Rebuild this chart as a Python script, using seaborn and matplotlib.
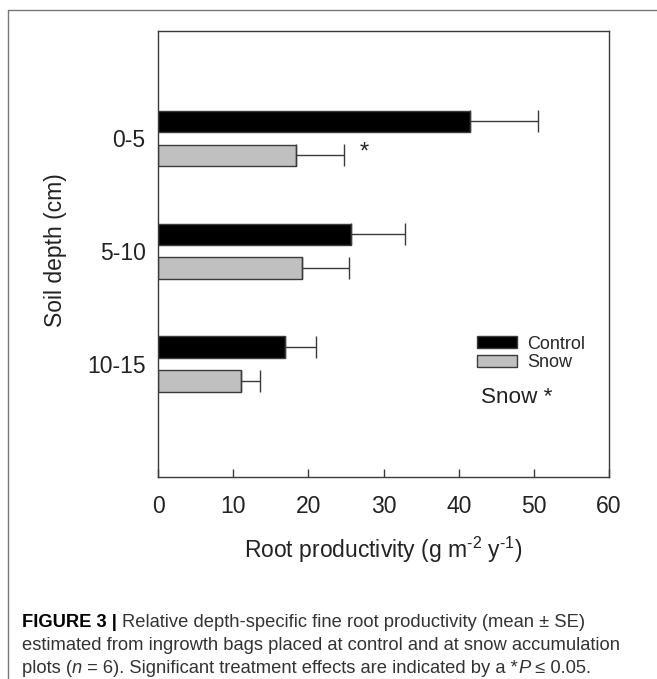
import numpy as np
import pandas as pd
import matplotlib
matplotlib.use("Agg")
import matplotlib.pyplot as plt
from matplotlib.lines import Line2D
import seaborn as sns

# ─── Data ─────────────────────────────────────────────────────────────────────
depths = ["0-5", "5-10", "10-15"]
treatments = ["Control", "Snow"]
control_mean = [41.5, 25.7, 16.9]
control_se = [9.0, 7.1, 4.1]
snow_mean = [18.3, 19.1, 11.1]
snow_se = [6.4, 6.3, 2.5]
x_ticks = [0, 10, 20, 30, 40, 50, 60]

df = pd.DataFrame({
    "depth": depths * 2,
    "treatment": ["Control"] * 3 + ["Snow"] * 3,
    "value": control_mean + snow_mean,
})
se_by_treatment = {"Control": control_se, "Snow": snow_se}

# ─── Style ────────────────────────────────────────────────────────────────────
sns.set_style("white")
plt.rcParams["font.family"] = ["Liberation Sans", "DejaVu Sans"]
plt.rcParams["mathtext.fontset"] = "custom"
plt.rcParams["mathtext.rm"] = "Liberation Sans"
plt.rcParams["mathtext.it"] = "Liberation Sans:italic"
INK = "#222222"
EDGE = "#3a3a3a"

fig = plt.figure(figsize=(6.57, 6.79), dpi=100)
ax = fig.add_axes([0.2405, 0.2975, 0.6865, 0.6568])

sns.barplot(data=df, y="depth", x="value", hue="treatment", order=depths,
            hue_order=treatments, palette={"Control": "black", "Snow": "#c0c0c0"},
            orient="h", width=0.6, gap=0.37, errorbar=None,
            edgecolor=EDGE, linewidth=1.0, ax=ax)

# one-sided error bars at the end of each bar
for cont, trt in zip(ax.containers, treatments):
    ys = [b.get_y() + b.get_height() / 2 for b in cont]
    xs = [b.get_width() for b in cont]
    se = se_by_treatment[trt]
    ax.errorbar(xs, ys, xerr=[np.zeros(len(se)), se], fmt="none",
                ecolor=EDGE, elinewidth=1.0, capsize=8, capthick=1.0, zorder=1)

# significance star beside the 0-5 snow bar
snow_bar = ax.containers[1][0]
ax.text(27.4, snow_bar.get_y() + snow_bar.get_height() / 2 + 0.03, "*",
        fontsize=17, ha="center", va="baseline", color=INK)

ax.set_xlim(0, 60)
ax.set_ylim(3.0, -0.95)
ax.set_xticks(x_ticks)
ax.set_xticklabels([str(t) for t in x_ticks])
ax.tick_params(axis="x", direction="in", length=6, width=1, color=EDGE,
               labelsize=16.5, pad=13, labelcolor=INK, bottom=True)
ax.tick_params(axis="y", length=0, labelsize=16.5, pad=9, labelcolor=INK)
for s in ax.spines.values():
    s.set_visible(True)
    s.set_color(EDGE)
    s.set_linewidth(1.0)

ax.set_xlabel(r"Root productivity (g m$^{\text{-}2}$ y$^{\text{-}1}$)", fontsize=16.5,
              color=INK, labelpad=12)
ax.set_ylabel("Soil depth (cm)", fontsize=16.5, color=INK)
ax.yaxis.set_label_coords(-0.202, 0.509)

handles, labels = ax.get_legend_handles_labels()
ax.legend(handles, labels, loc="center left", bbox_to_anchor=(0.707, 0.277),
          frameon=False, fontsize=13, handlelength=2.2, handleheight=0.65,
          handletextpad=0.6, labelspacing=0.1, borderpad=0, borderaxespad=0)
ax.text(0.796, 0.179, "Snow *", transform=ax.transAxes, fontsize=16.2,
        ha="center", va="center", color=INK)

# ─── Caption ──────────────────────────────────────────────────────────────────
cap_font = ["Liberation Sans", "DejaVu Sans"]
cap_size = 13.2
cap_color = "#333333"
x0 = 22 / 657

def chain(prev, s, **kw):
    return ax.annotate(s, xy=(1, 0), xycoords=prev, va="bottom", ha="left",
                       fontsize=cap_size, color=cap_color, family=cap_font,
                       annotation_clip=False, **kw)

t = fig.text(x0, 1 - 627 / 679, "FIGURE 3 | ", fontsize=cap_size, weight="bold",
             color="black", family=cap_font, va="baseline")
chain(t, "Relative depth-specific fine root productivity (mean \u00b1 SE)")
fig.text(x0, 1 - 650 / 679,
         "estimated from ingrowth bags placed at control and at snow accumulation",
         fontsize=cap_size, color=cap_color, family=cap_font, va="baseline")
t = fig.text(x0, 1 - 673 / 679, "plots (", fontsize=cap_size, color=cap_color,
             family=cap_font, va="baseline")
t = chain(t, "n", style="italic")
t = chain(t, " = 6). Significant treatment effects are indicated by a *")
t = chain(t, "P", style="italic")
chain(t, " \u2264 0.05.")

# outer frame of the figure panel (cut at right and bottom)
fig.add_artist(Line2D([8 / 657, 8 / 657], [0, 1 - 10 / 679], color="#777777", lw=1.0))
fig.add_artist(Line2D([8 / 657, 1], [1 - 10 / 679, 1 - 10 / 679], color="#777777", lw=1.0))

plt.savefig("out.png", dpi=100)
plt.close()
